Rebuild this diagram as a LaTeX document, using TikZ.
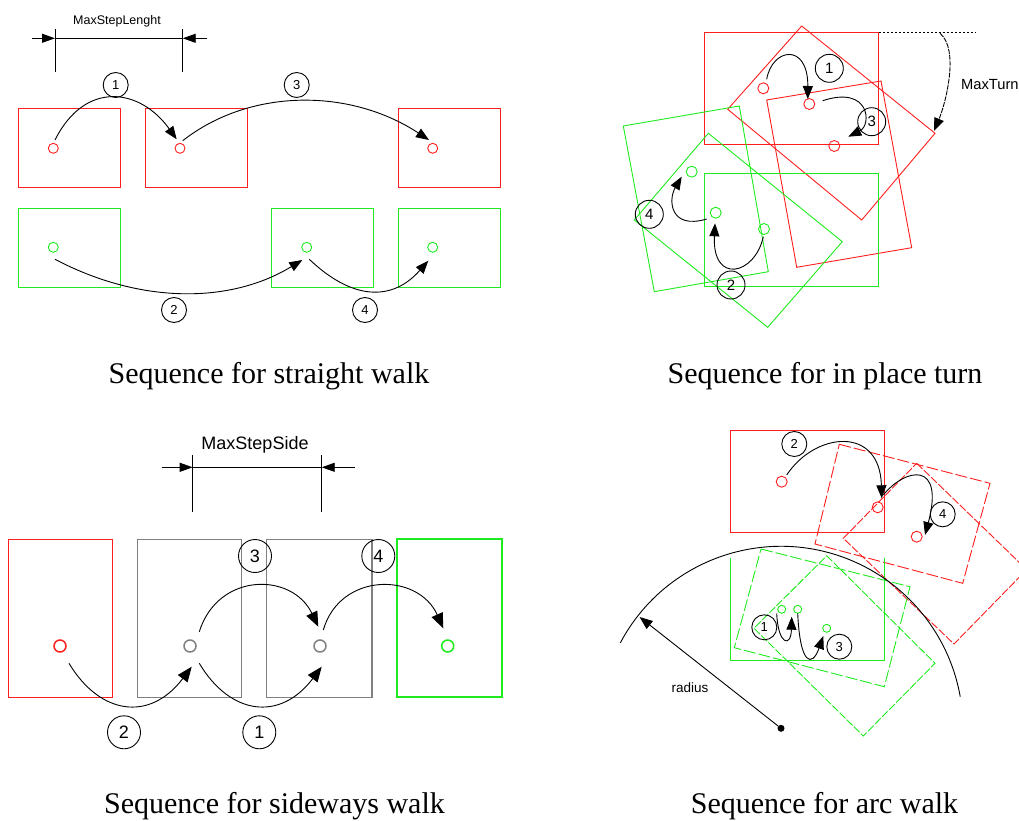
\documentclass[tikz,border=0pt]{standalone}
\usepackage{fontspec}
\setmainfont{Liberation Serif}
\newfontfamily\lblfont{Liberation Sans}
\usetikzlibrary{arrows.meta}
\definecolor{colRed}  {RGB}{255,30,30}
\definecolor{colGreen}{RGB}{30,235,30}
\definecolor{colGray} {RGB}{128,128,128}
\tikzset{
  foot/.style    = {circle, draw, inner sep=0pt, minimum size=10pt, line width=0.9pt},
  rfoot/.style   = {foot, draw=colRed},
  gfoot/.style   = {foot, draw=colGreen},
  yfoot/.style   = {foot, draw=colGray},
  num/.style     = {circle, draw, line width=0.9pt, inner sep=0pt, minimum size=25pt,
                    font=\lblfont\fontsize{13}{13}\selectfont},
  arr/.style     = {-{Triangle[length=13pt, width=10pt]}, line width=0.9pt},
  rbox/.style    = {draw=colRed, line width=0.9pt},
  gbox/.style    = {draw=colGreen, line width=0.9pt},
  ybox/.style    = {draw=colGray, line width=0.9pt},
  rdash/.style   = {rbox, dash pattern=on 12pt off 3pt},
  gdash/.style   = {gbox, dash pattern=on 12pt off 3pt},
  dim/.style     = {line width=0.9pt},
  dimtip/.style  = {-{Triangle[length=13pt, width=9pt]}, line width=0.9pt},
  caption/.style = {font=\fontsize{30}{36}\selectfont, anchor=base, inner sep=0pt},
  lbl/.style     = {font=\lblfont\fontsize{12.5}{14}\selectfont, inner sep=0pt},
}

\begin{document}
\begin{tikzpicture}[x=1pt, y=-1pt]

\useasboundingbox (0,0) rectangle (1019,821);

%% ── straight walk ───────────────────────────────────────────────────────────
\draw[rbox] (18.3,108.3) rectangle (120.7,187.7);
\draw[rbox] (145,108.3)  rectangle (247.3,187.7);
\draw[rbox] (398.3,108.3) rectangle (500,187.7);
\draw[gbox] (18.3,208.3) rectangle (120.7,287.3);
\draw[gbox] (271.7,208.3) rectangle (373.3,287.3);
\draw[gbox] (398.3,208.3) rectangle (500,287.3);

\node[rfoot] (r1) at (53.3,148.3)  {};
\node[rfoot] (r2) at (180,148.3)   {};
\node[rfoot] (r3) at (432.7,148.3) {};
\node[gfoot] (g1) at (53.3,247.3)  {};
\node[gfoot] (g2) at (306.7,247.3) {};
\node[gfoot] (g3) at (432.7,247.3) {};

% MaxStepLenght
\coordinate (lenL) at (55,38.3);
\coordinate (lenR) at (182.7,38.3);
\draw[dim] (55,29.3) -- (55,71.7);
\draw[dim] (182.7,29.3) -- (182.7,71.7);
\draw[dim] (lenL) -- (lenR);
\draw[dimtip] (32.3,38.3) -- (lenL);
\draw[dimtip] (207.3,38.3) -- (lenR);
\node[lbl] (maxLen) at (117,21) {MaxStepLenght};

\node[num] (sw1) at (115.7,85)  {1};
\node[num] (sw3) at (296.7,85)  {3};
\node[num] (sw2) at (174,310)   {2};
\node[num] (sw4) at (365,310)   {4};

\draw[arr] ([shift={(1.7,-8.3)}]r1.center) .. controls (85,80) and (140,88)
  .. ([shift={(-3.3,-9)}]r2.center);
\draw[arr] ([shift={(2.7,-7.6)}]r2.center) .. controls (250,88) and (350,88)
  .. ([shift={(-3.7,-8.3)}]r3.center);
\draw[arr] ([shift={(1.7,12)}]g1.center) .. controls (140,304) and (230,304)
  .. ([shift={(-4.4,12.7)}]g2.center);
\draw[arr] ([shift={(2.6,12)}]g2.center) .. controls (352,300) and (392,302)
  .. ([shift={(-4.4,13.4)}]g3.center);

\node[caption] (capA) at (269,383.3) {Sequence for straight walk};

%% ── in place turn ───────────────────────────────────────────────────────────
\begin{scope}[num/.append style={minimum size=28pt, font=\lblfont\fontsize{15}{15}\selectfont},
              foot/.append style={minimum size=11pt}]
\draw[rbox] (704.3,32.7) rectangle (878.7,144.3);
\draw[rbox] (801.7,26) -- (935,133.3) -- (861.7,220) -- (727.7,109.3) -- cycle;
\draw[rbox] (766.7,100) -- (881,81) -- (911.7,247.7) -- (796.7,267.3) -- cycle;
\draw[gbox] (704.3,173.3) rectangle (878.7,286);
\draw[gbox] (623.3,126) -- (739.3,106) -- (768.3,271.7) -- (654.3,291.7) -- cycle;
\draw[gbox] (708.3,133.3) -- (842.3,241.7) -- (767.7,327.3) -- (634.3,220) -- cycle;

\node[rfoot] (ta) at (763.3,88.3) {};
\node[rfoot] (tb) at (809.3,104)  {};
\node[rfoot] (tc) at (834.3,146)  {};
\node[gfoot] (ga) at (691.7,171.7) {};
\node[gfoot] (gb) at (715.7,212.7) {};
\node[gfoot] (gc) at (764,229)     {};

\node[num] (pt1) at (829.3,68.3)  {1};
\node[num] (pt3) at (871.7,121.7) {3};
\node[num] (pt4) at (649.3,214.3) {4};
\node[num] (pt2) at (731,285)     {2};

\draw[arr] ([shift={(3.4,-9)}]ta.center) .. controls (772,48) and (808,42)
  .. ([shift={(-1.5,-5)}]tb.center);
\draw[arr] ([shift={(13.4,-3.3)}]tb.center) .. controls (870,85) and (872,125)
  .. ([shift={(14,-9.3)}]tc.center);
\draw[arr] ([shift={(-0.7,7.7)}]gc.center) .. controls (755,275) and (712,285)
  .. ([shift={(-0.7,10.6)}]gb.center);
\draw[arr] ([shift={(-9,6.3)}]gb.center) .. controls (670,230) and (668,200)
  .. ([shift={(-10,5)}]ga.center);
\end{scope}

% MaxTurn
\coordinate (turnA) at (878.7,32.7);
\coordinate (turnB) at (975,32.7);
\coordinate (turnS) at (940,33.3);
\coordinate (turnE) at (934,131);
\draw[dim, dash pattern=on 2pt off 2pt] (turnA) -- (turnB);
\draw[arr, dash pattern=on 5pt off 1pt] (turnS) .. controls (960,50) and (945,105) .. (turnE);
\node[lbl, font=\lblfont\fontsize{14.7}{16}\selectfont, anchor=west] (maxTurn) at (961,85) {MaxTurn};

\node[caption] (capB) at (825,383.3) {Sequence for in place turn};

%% ── sideways walk ───────────────────────────────────────────────────────────
\begin{scope}[num/.append style={minimum size=33pt, font=\lblfont\fontsize{18}{18}\selectfont},
              foot/.append style={minimum size=12pt, line width=1.5pt},
              arr/.append style={-{Triangle[length=15pt, width=12pt]}}]
\draw[rbox] (8.3,539)   rectangle (112.3,697.3);
\draw[ybox] (137.7,539) rectangle (241,697.3);
\draw[ybox] (266,539)   rectangle (372.3,697.3);
\draw[colGray, line width=2pt] (372.3,539) -- (372.3,697.3);
\draw[gbox, line width=2pt] (396.7,539) rectangle (501.7,697.3);

\node[rfoot] (sa) at (60,646)    {};
\node[yfoot] (sb) at (190,646)   {};
\node[yfoot] (sc) at (320,646)   {};
\node[gfoot] (sd) at (447.7,646) {};

% MaxStepSide
\coordinate (sideL) at (192.7,467.3);
\coordinate (sideR) at (321.7,467.3);
\draw[dim] (192.7,455) -- (192.7,512.3);
\draw[dim] (321.7,455) -- (321.7,512.3);
\draw[dim] (sideL) -- (sideR);
\draw[dimtip] (161.7,467.3) -- (sideL);
\draw[dimtip] (355,467.3) -- (sideR);
\node[lbl, font=\lblfont\fontsize{18}{20}\selectfont] (maxSide) at (255,445) {MaxStepSide};

\node[num] (sd2) at (124,732.3)   {2};
\node[num] (sd1) at (259.3,732.3) {1};
\node[num] (sd3) at (255,556)     {3};
\node[num] (sd4) at (378.3,556)   {4};

\draw[arr] ([shift={(9,17.3)}]sa.center) .. controls (100,715) and (150,722)
  .. ([shift={(1.7,20.7)}]sb.center);
\draw[arr] ([shift={(9.3,17.3)}]sb.center) .. controls (230,715) and (280,722)
  .. ([shift={(1.7,20.7)}]sc.center);
\draw[arr] ([shift={(9.3,-14.3)}]sb.center) .. controls (218,572) and (292,572)
  .. ([shift={(-1.7,-19.3)}]sc.center);
\draw[arr] ([shift={(3.3,-16)}]sc.center) .. controls (340,572) and (418,572)
  .. ([shift={(-4.4,-17.7)}]sd.center);
\end{scope}

\node[caption] (capC) at (274.5,813.3) {Sequence for sideways walk};

%% ── arc walk ────────────────────────────────────────────────────────────────
\begin{scope}[num/.append style={minimum size=25pt, font=\lblfont\fontsize{13}{13}\selectfont}]
\clip (0,0) rectangle (1019,821);
\draw[rbox] (730.7,430) rectangle (884.3,532.3);
\draw[rdash] (839.3,444.3) -- (990,483.3) -- (962.7,583.3) -- (815,544) -- cycle;
\draw[rdash, dash pattern=on 8pt off 2pt] (916.7,463.3) -- (1026.7,569.6) -- (954,644) -- (843.3,538.3) -- cycle;
\draw[gbox] (730.7,558.3) -- (730.7,660) -- (884.3,660) -- (884.3,558.3);
\draw[gdash] (761,549) -- (910,586.7) -- (884.3,686.7) -- (734.3,647.7) -- cycle;
\draw[gdash, dash pattern=on 8pt off 2pt] (826.7,555.7) -- (935,663.3) -- (863.3,736) -- (754,628.3) -- cycle;

\node[rfoot, minimum size=11pt] (ra) at (781.7,481.7) {};
\node[rfoot, minimum size=11pt] (rb) at (877.7,507.3) {};
\node[rfoot, minimum size=11pt] (rc) at (916.7,536.7) {};
\node[gfoot, minimum size=8pt]  (fa) at (781.7,609.3) {};
\node[gfoot, minimum size=8pt]  (fb) at (797.7,609.3) {};
\node[gfoot, minimum size=8pt]  (fc) at (826.7,628.3) {};

\node[num] (aw2) at (794.3,444)   {2};
\node[num] (aw4) at (942.7,514.3) {4};
\node[num] (aw1) at (764.3,627.3) {1};
\node[num] (aw3) at (839.3,646.7) {3};

\draw[arr] ([shift={(5,-6.7)}]ra.center) .. controls (815,432) and (880,425)
  .. ([shift={(4,-9)}]rb.center);
\draw[arr] ([shift={(5.6,-12.3)}]rb.center) .. controls (905,468) and (945,460)
  .. ([shift={(8.3,-1.7)}]rc.center);
\draw[arr] ([shift={(-5,4)}]fa.center) .. controls (778,645) and (791,648)
  .. ([shift={(-6,7.4)}]fb.center);
\draw[arr] ([shift={(0,4)}]fb.center) .. controls (800,665) and (812,668)
  .. ([shift={(-3.4,7.7)}]fc.center);

% radius
\node[circle, fill, inner sep=0pt, minimum size=7pt] (pivot) at (781,728.3) {};
\draw[line width=0.9pt] ([shift={(-152:182)}]pivot.center)
  arc[start angle=-152, end angle=-10, radius=182];
\draw[arr] (pivot) -- ([shift={(-141.8:180)}]pivot.center);
\node[lbl, font=\lblfont\fontsize{13.5}{15}\selectfont] (radLbl) at (690,687.7) {radius};
\end{scope}

\node[caption] (capD) at (824.5,813.3) {Sequence for arc walk};

\end{tikzpicture}
\end{document}
